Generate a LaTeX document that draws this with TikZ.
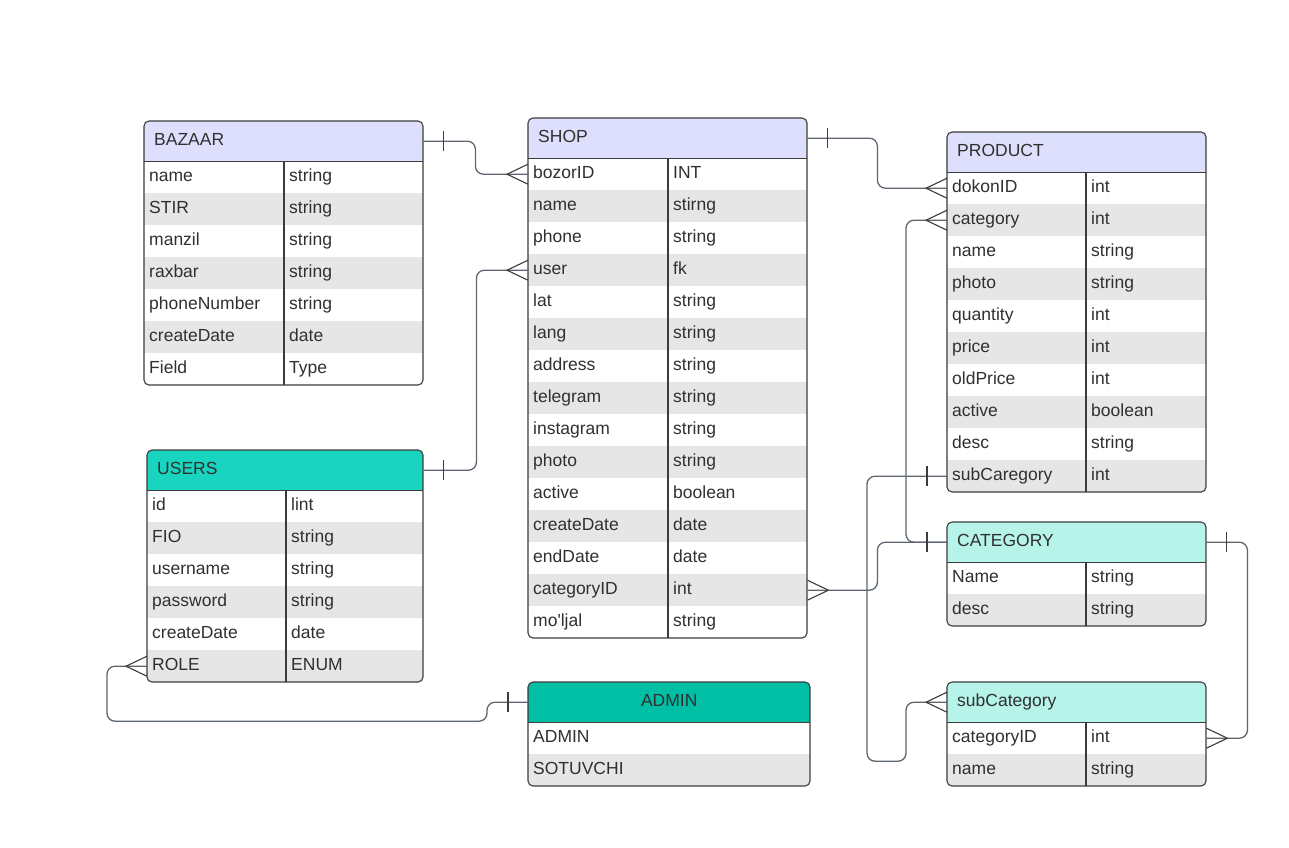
\documentclass[tikz,border=0pt]{standalone}
\usepackage{fontspec}
\setmainfont{Liberation Sans}
\usetikzlibrary{calc}

\definecolor{lav}{HTML}{DEDFFC}
\definecolor{teal}{HTML}{19D4BE}
\definecolor{deepteal}{HTML}{00BFA5}
\definecolor{mint}{HTML}{B6F4EA}
\definecolor{rowgray}{HTML}{E6E6E6}
\definecolor{edge}{HTML}{3C3C3C}
\definecolor{wire}{HTML}{5E6670}
\definecolor{txt}{HTML}{303030}

\tikzset{
  hdr/.style={inner sep=0pt, minimum height=40, anchor=north west,
    text height=13pt, text depth=4pt,
    font=\fontsize{17.5}{20}\selectfont, text=txt},
  rowbox/.style={inner sep=0pt, minimum height=32, anchor=north west},
  cell/.style={inner sep=0pt, anchor=west, text height=13pt, text depth=4pt,
    font=\fontsize{17.5}{20}\selectfont, text=txt},
  box/.style={draw=edge, line width=1.1pt, rounded corners=5},
  rule/.style={draw=edge, line width=1.1pt},
  conn/.style={draw=wire, line width=1.3pt, rounded corners=8},
  foot/.style={draw=edge, line width=1.1pt},
  crowW/.pic={\draw[foot] (0,-10) -- (-21,0) -- (0,10);},
  crowE/.pic={\draw[foot] (0,-10) -- (21,0) -- (0,10);},
  barW/.pic={\draw[foot] (-20,-10) -- (-20,10);},
  barE/.pic={\draw[foot] (20,-10) -- (20,10);},
}

% #1 id, #2 left x, #3 top y, #4 width, #5 column divider offset (0 = none),
% #6 header fill, #7 title alignment, #8 title, #9 field/type rows
\newcommand\ertable[9]{%
  \foreach \f/\t [count=\i] in {#9} {\xdef\nrows{\i}}%
  \pgfmathsetmacro\tabh{40+32*\nrows}%
  \pgfmathsetmacro\tw{#4-20}%
  \begin{scope}
    \clip[rounded corners=5] (#2,#3) rectangle ++(#4,\tabh);
    \node[hdr, fill=#6, minimum width=#4, text width=\tw pt, align=#7] (#1) at (#2,#3) {#8};
    \foreach \f/\t [count=\i] in {#9} {
      \ifodd\i\relax \def\rfill{white}\else \def\rfill{rowgray}\fi
      \node[rowbox, fill=\rfill, minimum width=#4] (#1-\i) at (#2,#3+40+32*\i-32) {};
      \node[cell] at ([xshift=5]#1-\i.west) {\f};
      \ifnum#5>0\relax \node[cell] at ([xshift=#5+5]#1-\i.west) {\t};\fi
    }
  \end{scope}
  \draw[rule] (#1.south west) -- (#1.south east);
  \ifnum#5>0\relax \draw[rule] (#2+#5,#3+40) -- (#2+#5,#3+\tabh);\fi
  \draw[box] (#2,#3) rectangle ++(#4,\tabh);
}

\begin{document}
\begin{tikzpicture}[x=1pt,y=-1pt]
  \useasboundingbox (0,0) rectangle (1289,847);
  \fill[white] (0,0) rectangle (1289,847);

  \ertable{bazaar}{144}{121}{279}{140}{lav}{left}{BAZAAR}
    {name/string, STIR/string, manzil/string, raxbar/string,
     phoneNumber/string, createDate/date, Field/Type}

  \ertable{shop}{528}{118}{279}{140}{lav}{left}{SHOP}
    {bozorID/INT, name/stirng, phone/string, user/fk, lat/string,
     lang/string, address/string, telegram/string, instagram/string,
     photo/string, active/boolean, createDate/date, endDate/date,
     categoryID/int, mo\textquotesingle ljal/string}

  \ertable{product}{947}{132}{259}{139}{lav}{left}{PRODUCT}
    {dokonID/int, category/int, name/string, photo/string, quantity/int,
     price/int, oldPrice/int, active/boolean, desc/string, subCaregory/int}

  \ertable{users}{147}{450}{276}{139}{teal}{left}{USERS}
    {id/lint, FIO/string, username/string, password/string,
     createDate/date, ROLE/ENUM}

  \ertable{admin}{528}{682}{282}{0}{deepteal}{center}{ADMIN}
    {ADMIN/, SOTUVCHI/}

  \ertable{category}{947}{522}{259}{139}{mint}{left}{CATEGORY}
    {Name/string, desc/string}

  \ertable{subcategory}{947}{682}{259}{139}{mint}{left}{subCategory}
    {categoryID/int, name/string}

  % relationships
  \draw[conn] (bazaar.east) -- ++(52,0) |- (shop-1.west);
  \draw[conn] (users.east) -- ++(53,0) |- (shop-4.west);
  \draw[conn] (shop.east) -- ++(70,0) |- (product-1.west);
  \draw[conn] (product-2.west) -- ++(-41,0) |- (category.west);
  \draw[conn] (shop-14.east) -- ++(70,0) |- (category.west);
  \draw[conn] (product-10.west) -- ++(-80,0) -- ++(0,285) -- ++(39,0) |- (subcategory.west);
  \draw[conn] (category.east) -- ++(41,0) |- (subcategory-1.east);
  \draw[conn] (users-6.west) -- ++(-40,0) -- ++(0,55) -- ++(380,0) |- (admin.west);

  % cardinality marks
  \pic at (bazaar.east) {barE};
  \pic at (shop-1.west) {crowW};
  \pic at (users.east) {barE};
  \pic at (shop-4.west) {crowW};
  \pic at (shop.east) {barE};
  \pic at (product-1.west) {crowW};
  \pic at (product-2.west) {crowW};
  \pic at (category.west) {barW};
  \pic at (shop-14.east) {crowE};
  \pic at (product-10.west) {barW};
  \pic at (subcategory.west) {crowW};
  \pic at (category.east) {barE};
  \pic at (subcategory-1.east) {crowE};
  \pic at (users-6.west) {crowW};
  \pic at (admin.west) {barW};
\end{tikzpicture}
\end{document}
